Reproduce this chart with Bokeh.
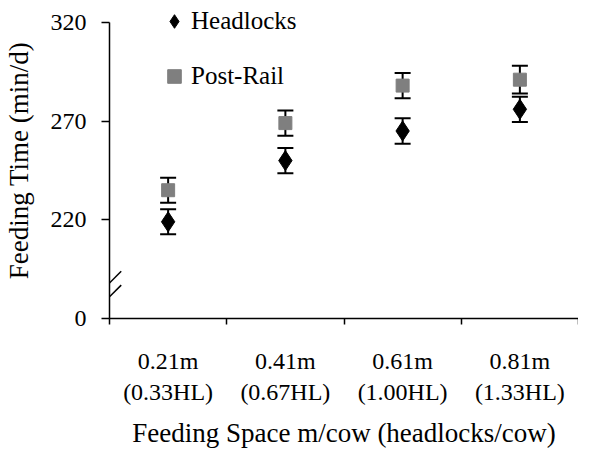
import numpy as np
from bokeh.plotting import figure
from bokeh.models import (ColumnDataSource, Range1d, FixedTicker, LinearAxis,
                          Whisker, TeeHead, Legend, LegendItem, Arrow)
from bokeh.embed import file_html
from bokeh.resources import INLINE

# ---- data ----
space_m = ["0.21m", "0.41m", "0.61m", "0.81m"]
space_hl = ["(0.33HL)", "(0.67HL)", "(1.00HL)", "(1.33HL)"]
headlocks = [219, 250, 265, 276]
headlocks_err = [6.3, 6.4, 6.5, 6.4]
post_rail = [235, 269, 288, 291]
post_rail_err = [6.3, 6.4, 6.4, 7.0]
y_tick_labels = ["0", "220", "270", "320"]
y_tick_pos = [170, 220, 270, 320]   # broken axis: "0" drawn at 170

FONT = "Liberation Serif"
x = np.arange(len(space_m))

p = figure(width=578, height=450, x_range=Range1d(-0.5, 3.5), y_range=Range1d(170, 330.1),
           output_backend="svg", toolbar_location=None,
           min_border_left=108, min_border_right=0, min_border_top=2, min_border_bottom=132)
p.grid.visible = False
p.outline_line_color = None
p.background_fill_color = "white"
p.border_fill_color = "white"

hl_src = ColumnDataSource(dict(x=x, y=headlocks,
                               upper=np.array(headlocks) + np.array(headlocks_err),
                               lower=np.array(headlocks) - np.array(headlocks_err)))
pr_src = ColumnDataSource(dict(x=x, y=post_rail,
                               upper=np.array(post_rail) + np.array(post_rail_err),
                               lower=np.array(post_rail) - np.array(post_rail_err)))

for src in (hl_src, pr_src):
    w = Whisker(base="x", upper="upper", lower="lower", source=src,
                line_color="black", line_width=2,
                upper_head=TeeHead(size=16, line_color="black", line_width=2),
                lower_head=TeeHead(size=16, line_color="black", line_width=2))
    p.add_layout(w)

r_hl = p.scatter("x", "y", source=hl_src, marker="diamond", size=20,
                 fill_color="black", line_color="black")
r_pr = p.scatter("x", "y", source=pr_src, marker="square", size=13,
                 fill_color="#7f7f7f", line_color="#7f7f7f")

legend = Legend(items=[LegendItem(label="Headlocks", renderers=[r_hl]),
                       LegendItem(label="Post-Rail", renderers=[r_pr])],
                location=(48, 225), orientation="vertical",
                glyph_width=34, glyph_height=34, label_height=34, spacing=21,
                label_standoff=0, padding=0, margin=0,
                border_line_color=None, background_fill_alpha=0,
                label_text_font=FONT, label_text_font_size="25px",
                label_text_color="black")
p.add_layout(legend)

# y axis (line stops at 320)
ya = p.yaxis[0]
ya.bounds = (170, 320)
ya.ticker = FixedTicker(ticks=y_tick_pos)
ya.major_label_overrides = {pos: lab for pos, lab in zip(y_tick_pos, y_tick_labels)}
ya.minor_tick_line_color = None
ya.major_tick_out = 8
ya.major_tick_in = 0
ya.major_tick_line_width = 1.5
ya.major_tick_line_color = "black"
ya.axis_line_width = 1.5
ya.axis_line_color = "black"
ya.major_label_standoff = 15
ya.major_label_text_font = FONT
ya.major_label_text_font_size = "24px"
ya.major_label_text_color = "black"
ya.axis_label = "Feeding Time (min/d)"
ya.axis_label_text_font = FONT
ya.axis_label_text_font_size = "27px"
ya.axis_label_text_font_style = "normal"
ya.axis_label_text_color = "black"
ya.axis_label_standoff = 14

# x axis (first line of labels + ticks between categories)
xa = p.xaxis[0]
xa.ticker = FixedTicker(ticks=list(x), minor_ticks=list(np.arange(len(space_m) + 1) - 0.5))
xa.major_label_overrides = {int(i): lab for i, lab in zip(x, space_m)}
xa.major_tick_line_color = None
xa.major_tick_out = 0
xa.major_tick_in = 0
xa.minor_tick_out = 6
xa.minor_tick_in = 0
xa.minor_tick_line_width = 1.5
xa.minor_tick_line_color = "black"
xa.axis_line_width = 1.5
xa.axis_line_color = "black"
xa.major_label_standoff = 23
xa.major_label_text_font = FONT
xa.major_label_text_font_size = "24px"
xa.major_label_text_color = "black"

# second line of x labels + title
xa2 = LinearAxis(ticker=FixedTicker(ticks=list(x)))
xa2.major_label_overrides = {int(i): lab for i, lab in zip(x, space_hl)}
xa2.axis_line_color = None
xa2.major_tick_line_color = None
xa2.minor_tick_line_color = None
xa2.major_tick_out = 0
xa2.major_tick_in = 0
xa2.major_label_standoff = 2
xa2.major_label_text_font = FONT
xa2.major_label_text_font_size = "24px"
xa2.major_label_text_color = "black"
xa2.axis_label = "Feeding Space m/cow (headlocks/cow)"
xa2.axis_label_text_font = FONT
xa2.axis_label_text_font_size = "27px"
xa2.axis_label_text_font_style = "normal"
xa2.axis_label_text_color = "black"
xa2.axis_label_standoff = 10
p.add_layout(xa2, "below")

# axis break marks
for yc in (188, 181):
    p.add_layout(Arrow(end=None, x_start=-0.6, x_end=-0.4, y_start=yc - 5.9, y_end=yc + 5.9,
                       line_color="black", line_width=1.5))

open("out.html", "w").write(file_html(p, INLINE))
